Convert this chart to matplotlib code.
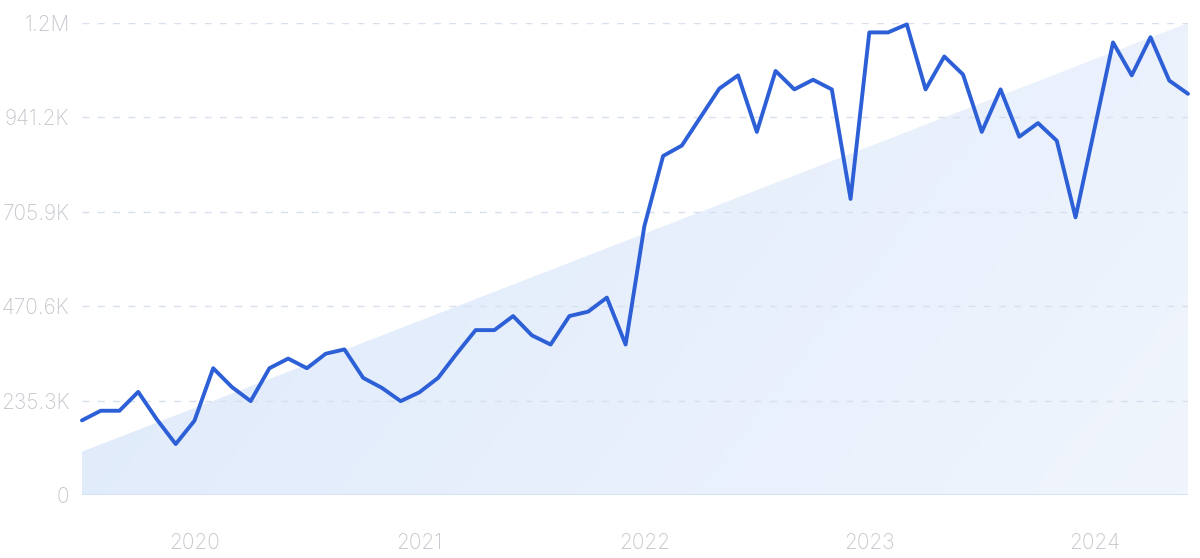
import matplotlib
matplotlib.use('Agg')
import matplotlib.pyplot as plt
import numpy as np
from matplotlib.colors import LinearSegmentedColormap
from matplotlib.patches import Polygon

# monthly values, Jul 2019 .. Jun 2024 (thousands)
values = [186, 210, 210, 257, 188, 127, 185, 316, 269, 234,
          316, 340, 316, 352, 363, 292, 267, 234, 256, 292,
          353, 411, 411, 446, 398, 375, 446, 457, 492, 375,
          670, 845, 871, 942, 1013, 1046, 905, 1057, 1011, 1035,
          1011, 738, 1153, 1153, 1173, 1011, 1093, 1048, 905, 1011,
          893, 927, 883, 692, 910, 1128, 1046, 1141, 1033, 1000]
trend_start, trend_end = 108, 1176.5
ytick_vals = [0, 235.3, 470.6, 705.9, 941.2, 1176.5]
ytick_labels = ['0', '235.3K', '470.6K', '705.9K', '941.2K', '1.2M']
year_idx = [6, 18, 30, 42, 54]
year_labels = ['2020', '2021', '2022', '2023', '2024']

x = np.arange(len(values))
ymax = 1176.5

fig = plt.figure(figsize=(12, 5.58), dpi=100)
ax = fig.add_axes([0.0683, 0.1129, 0.9217, 0.8459])
ax.set_xlim(0, len(values) - 1)
ax.set_ylim(0, ymax)

# gradient trend area
cmap = LinearSegmentedColormap.from_list('g', ['#dde9fa', '#f0f5fd'])
gx, gy = np.meshgrid(np.linspace(0, 1, 200), np.linspace(0, 1, 100))
grad = 0.75 * gx + 0.25 * (1 - gy)
im = ax.imshow(grad, extent=[0, len(values) - 1, 0, ymax], origin='lower',
               aspect='auto', cmap=cmap, zorder=1)
poly = Polygon([[0, 0], [0, trend_start], [len(values) - 1, trend_end],
                [len(values) - 1, 0]], closed=True, transform=ax.transData,
               facecolor='none', edgecolor='none')
ax.add_patch(poly)
im.set_clip_path(poly)

for v in ytick_vals[1:]:
    ax.axhline(v, color='#d8e0ee', lw=1, dashes=(5, 6), zorder=2)
ax.axhline(0, color='#d3dff3', lw=1.2, zorder=2)

ax.plot(x, values, color='#2d5fd6', lw=2.8, solid_joinstyle='round',
        solid_capstyle='round', zorder=3, clip_on=False)

for s in ax.spines.values():
    s.set_visible(False)
ax.set_yticks(ytick_vals)
ax.set_yticklabels(ytick_labels)
ax.set_xticks(year_idx)
ax.set_xticklabels(year_labels)
ax.tick_params(length=0, colors='#c3c6cc', labelsize=15)
ax.tick_params(axis='y', pad=9)
ax.tick_params(axis='x', pad=27)
for t in ax.get_xticklabels() + ax.get_yticklabels():
    t.set_color('#c3c6cc')
    t.set_fontfamily(['Inter', 'DejaVu Sans'])
    t.set_fontweight('light')

fig.savefig('out.png', dpi=100)
